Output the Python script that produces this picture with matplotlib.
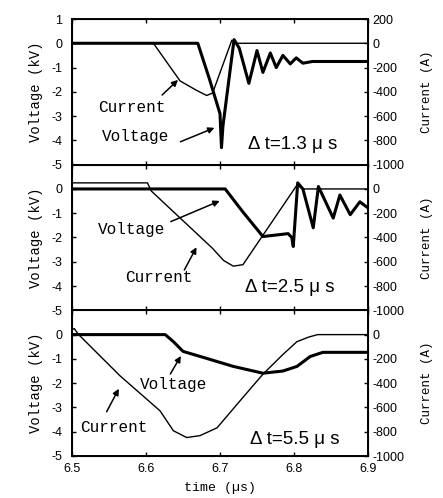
import matplotlib.pyplot as plt

plt.rcParams['axes.unicode_minus'] = False

# ---- data (voltage in kV, current in A) ----
deltas = ['1.3', '2.5', '5.5']

# dt = 1.3 us
v1_t = [6.50, 6.670, 6.686, 6.693, 6.700, 6.702, 6.704, 6.719, 6.726, 6.739, 6.750, 6.758,
        6.768, 6.776, 6.785, 6.795, 6.803, 6.812, 6.825, 6.90]
v1 = [0, 0, -1.5, -2.2, -2.9, -4.3, -3.4, 0.15, -0.2, -1.65, -0.3, -1.2,
      -0.4, -1.0, -0.5, -0.85, -0.6, -0.82, -0.75, -0.75]
c1_t = [6.50, 6.610, 6.646, 6.669, 6.682, 6.690, 6.716, 6.722, 6.90]
c1 = [0, 0, -310, -390, -430, -410, 25, 0, 0]

# dt = 2.5 us
v2_t = [6.50, 6.707, 6.731, 6.758, 6.781, 6.792, 6.797, 6.799, 6.805, 6.812, 6.826, 6.833,
        6.853, 6.862, 6.876, 6.889, 6.90]
v2 = [0, 0, -0.95, -1.96, -1.88, -1.84, -2.0, -2.37, 0.25, 0.0, -1.6, 0.1,
      -1.2, -0.25, -1.06, -0.53, -0.78]
c2_t = [6.50, 6.602, 6.607, 6.690, 6.705, 6.718, 6.731, 6.804, 6.812, 6.90]
c2 = [50, 50, -16, -490, -590, -636, -624, 32, 0, 0]

# dt = 5.5 us
v3_t = [6.50, 6.626, 6.637, 6.650, 6.682, 6.718, 6.758, 6.785, 6.804, 6.822, 6.839, 6.90]
v3 = [0, 0, -0.29, -0.69, -0.98, -1.31, -1.59, -1.5, -1.31, -0.9, -0.73, -0.73]
c3_t = [6.500, 6.503, 6.509, 6.565, 6.619, 6.637, 6.655, 6.673, 6.696, 6.727, 6.758,
        6.785, 6.804, 6.820, 6.832, 6.90]
c3 = [40, 50, 0, -340, -628, -792, -848, -832, -768, -546, -326, -164, -58, -20, 0, 0]

volts = [(v1_t, v1), (v2_t, v2), (v3_t, v3)]
currs = [(c1_t, c1), (c2_t, c2), (c3_t, c3)]

mono = 'Liberation Mono'
sans = 'Liberation Sans'

fig = plt.figure(figsize=(4.43, 4.98), dpi=100)
left, width = 72 / 443, 296 / 443
top, bottom = 1 - 19 / 498, 1 - 456 / 498
h = (top - bottom) / 3

# label positions (time, kV) and arrows (from, to)
notes = [
    [('Current', (6.535, -2.66), (6.619, -2.21), (6.646, -1.43)),
     ('Voltage', (6.541, -3.85), (6.643, -4.10), (6.696, -3.44))],
    [('Voltage', (6.535, -1.68), (6.630, -1.39), (6.703, -0.45)),
     ('Current', (6.572, -3.65), (6.650, -3.44), (6.670, -2.30))],
    [('Voltage', (6.592, -2.05), (6.631, -1.72), (6.649, -0.78)),
     ('Current', (6.511, -3.81), (6.545, -3.28), (6.565, -2.13))],
]
dt_pos = [(6.738, -4.18), (6.734, -4.06), (6.741, -4.30)]

for i in range(3):
    ax = fig.add_axes([left, top - (i + 1) * h, width, h])
    ax2 = ax.twinx()
    ax.plot(*volts[i], color='k', lw=2.2, solid_joinstyle='round')
    ax2.plot(*currs[i], color='k', lw=1.0)
    ax.set_xlim(6.5, 6.9)
    ax.set_ylim(-5, 1)
    ax2.set_ylim(-1000, 200)
    if i == 0:
        ax.set_yticks(range(-5, 2))
        ax2.set_yticks(range(-1000, 201, 200))
    else:
        ax.set_yticks(range(-5, 1))
        ax2.set_yticks(range(-1000, 1, 200))
    ax.set_xticks([6.5, 6.6, 6.7, 6.8, 6.9])
    ax.tick_params(direction='in', length=3, width=1, top=True, labelsize=9)
    ax.tick_params(axis='y', pad=7)
    ax.tick_params(axis='x', pad=5)
    ax2.tick_params(direction='in', length=3, width=1, labelsize=9, pad=3)
    for lab in ax.get_yticklabels() + ax2.get_yticklabels() + ax.get_xticklabels():
        lab.set_fontfamily(sans)
    if i < 2:
        ax.set_xticklabels([])
    else:
        ax.set_xticklabels(['6.5', '6.6', '6.7', '6.8', '6.9'])
        ax.set_xlabel('time (µs)', family=mono, fontsize=9.5, labelpad=5)
    for sp in ax2.spines.values():
        sp.set_linewidth(1.4)
    ax.set_ylabel('Voltage (kV)', family=mono, fontsize=10, labelpad=6)
    ax2.set_ylabel('Current (A)', family=mono, fontsize=9, labelpad=12)

    for txt, pos, a0, a1 in notes[i]:
        ax.text(pos[0], pos[1], txt, family=mono, fontsize=11.5, ha='left', va='center')
        ax.annotate('', xy=a1, xytext=a0,
                    arrowprops=dict(arrowstyle='-|>', color='k', lw=1.1, mutation_scale=9))
    ax.text(dt_pos[i][0], dt_pos[i][1], 'Δ t=' + deltas[i] + ' μ s', family=sans,
            fontsize=13.5, ha='left', va='center')

fig.savefig('out.png', dpi=100)
